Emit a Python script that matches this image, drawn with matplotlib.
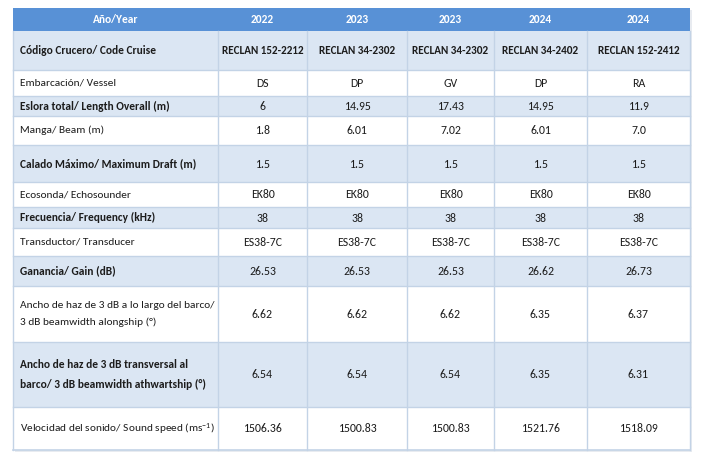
import matplotlib
matplotlib.use("Agg")
import matplotlib.pyplot as plt
from matplotlib.patches import Rectangle

# ---- data ----
header_label = "Año/Year"
years = ["2022", "2023", "2023", "2024", "2024"]
row_labels = [
    "Código Crucero/ Code Cruise",
    "Embarcación/ Vessel",
    "Eslora total/ Length Overall (m)",
    "Manga/ Beam (m)",
    "Calado Máximo/ Maximum Draft (m)",
    "Ecosonda/ Echosounder",
    "Frecuencia/ Frequency (kHz)",
    "Transductor/ Transducer",
    "Ganancia/ Gain (dB)",
    "Ancho de haz de 3 dB a lo largo del barco/\n3 dB beamwidth alongship (°)",
    "Ancho de haz de 3 dB transversal al\nbarco/ 3 dB beamwidth athwartship (°)",
    "Velocidad del sonido/ Sound speed (ms$^{-1}$)",
]
cruise_codes = ["RECLAN 152-2212", "RECLAN 34-2302", "RECLAN 34-2302", "RECLAN 34-2402", "RECLAN 152-2412"]
vessels = ["DS", "DP", "GV", "DP", "RA"]
length_overall = ["6", "14.95", "17.43", "14.95", "11.9"]
beam = ["1.8", "6.01", "7.02", "6.01", "7.0"]
max_draft = ["1.5", "1.5", "1.5", "1.5", "1.5"]
echosounder = ["EK80", "EK80", "EK80", "EK80", "EK80"]
frequency = ["38", "38", "38", "38", "38"]
transducer = ["ES38-7C", "ES38-7C", "ES38-7C", "ES38-7C", "ES38-7C"]
gain = ["26.53", "26.53", "26.53", "26.62", "26.73"]
bw_along = ["6.62", "6.62", "6.62", "6.35", "6.37"]
bw_athwart = ["6.54", "6.54", "6.54", "6.35", "6.31"]
sound_speed = ["1506.36", "1500.83", "1500.83", "1521.76", "1518.09"]

rows = [cruise_codes, vessels, length_overall, beam, max_draft, echosounder,
        frequency, transducer, gain, bw_along, bw_athwart, sound_speed]

# ---- layout (pixels) ----
col_edges = [13, 218, 307, 407, 494, 587, 690]
row_edges = [8, 31, 70, 96, 116, 145, 182, 207, 228, 256, 286, 342, 407, 450]
shaded = [True, False, True, False, True, False, True, False, True, False, True, False]
bold_label = [True, False, True, False, True, False, True, False, True, False, True, False]

HEADER = "#5891d6"
LIGHT = "#dbe6f3"
GRID = "#c3d3e6"
TEXT = "#1c1c1c"

plt.rcParams["mathtext.default"] = "regular"
plt.rcParams["mathtext.fontset"] = "custom"
plt.rcParams["mathtext.rm"] = "Carlito"
FONT = ["Carlito", "DejaVu Sans"]

fig = plt.figure(figsize=(7.01, 4.62), dpi=100)
ax = fig.add_axes([0, 0, 1, 1])
ax.set_xlim(0, 701)
ax.set_ylim(462, 0)
ax.axis("off")

x0, x1 = col_edges[0], col_edges[-1]

# subtle shadow
ax.add_patch(Rectangle((x0 + 2, row_edges[0] + 2), x1 - x0, row_edges[-1] - row_edges[0],
                       facecolor="#e8ebf0", edgecolor="none", zorder=0))

# header
ax.add_patch(Rectangle((x0, row_edges[0]), x1 - x0, row_edges[1] - row_edges[0],
                       facecolor=HEADER, edgecolor="none", zorder=1))
yc = (row_edges[0] + row_edges[1]) / 2
ax.text((col_edges[0] + col_edges[1]) / 2, yc, header_label, color="white", fontsize=8.2,
        fontweight="bold", ha="center", va="center", family=FONT, zorder=3)
for j, yr in enumerate(years):
    xc = (col_edges[j + 1] + col_edges[j + 2]) / 2
    ax.text(xc, yc, yr, color="white", fontsize=8.2, fontweight="bold",
            ha="center", va="center", family=FONT, zorder=3)

# body
for i, (lab, vals) in enumerate(zip(row_labels, rows)):
    top, bot = row_edges[i + 1], row_edges[i + 2]
    fc = LIGHT if shaded[i] else "white"
    ax.add_patch(Rectangle((x0, top), x1 - x0, bot - top, facecolor=fc,
                           edgecolor="none", zorder=1))
    yc = (top + bot) / 2
    ax.text(x0 + 7, yc, lab, color=TEXT, fontsize=8.2,
            fontweight="bold" if bold_label[i] else "normal",
            ha="left", va="center", family=FONT, linespacing=1.95, zorder=3)
    for j, v in enumerate(vals):
        xc = (col_edges[j + 1] + col_edges[j + 2]) / 2
        ax.text(xc, yc + 0.5, v, color=TEXT, fontsize=8.0 if i == 0 else 8.5,
                fontweight="bold" if i == 0 else "normal",
                ha="center", va="center", family=FONT, zorder=3)
    if i > 0:
        ax.plot([x0, x1], [top, top], color=GRID, lw=1.0, zorder=2)

# vertical lines (below header)
for xe in col_edges[1:-1]:
    ax.plot([xe, xe], [row_edges[1], row_edges[-1]], color=GRID, lw=1.0, zorder=2)

# outer border
ax.plot([x0, x0], [row_edges[1], row_edges[-1]], color=GRID, lw=1.0, zorder=2)
ax.plot([x1, x1], [row_edges[1], row_edges[-1]], color=GRID, lw=1.0, zorder=2)
ax.plot([x0, x1], [row_edges[-1], row_edges[-1]], color=GRID, lw=1.2, zorder=2)

fig.savefig("out.png", dpi=100)
